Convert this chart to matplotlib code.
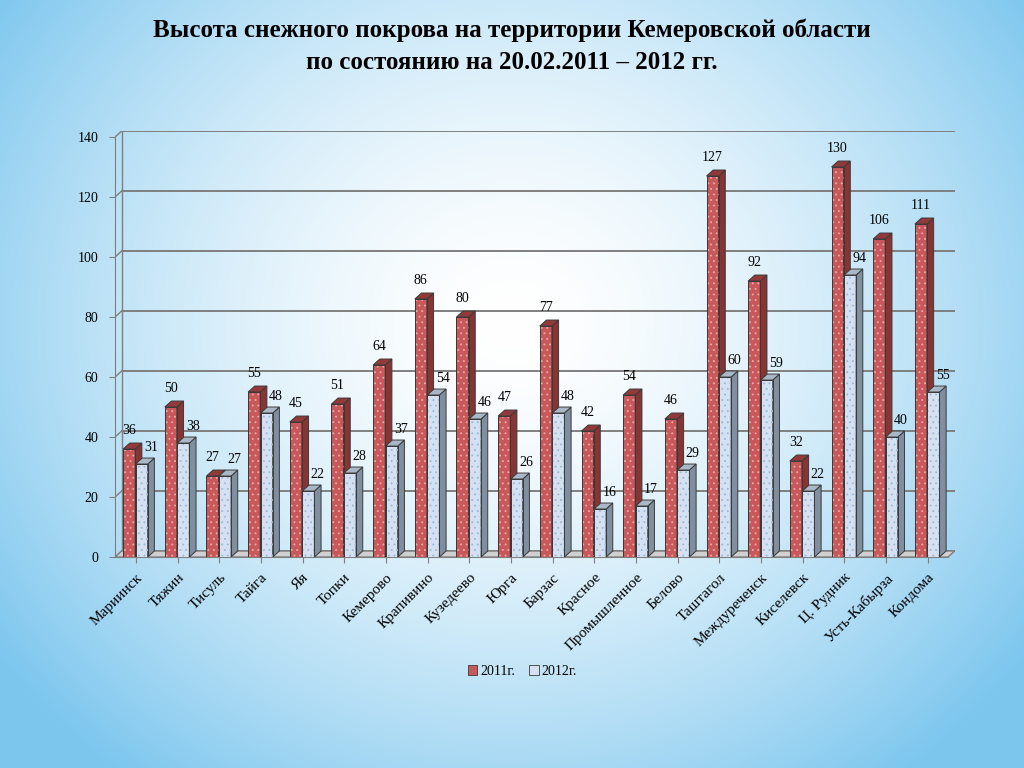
import numpy as np
import matplotlib.pyplot as plt
from matplotlib.patches import Polygon, Patch
from matplotlib.colors import to_rgb

categories = ["Мариинск", "Тяжин", "Тисуль", "Тайга", "Яя", "Топки", "Кемерово",
              "Крапивино", "Кузедеево", "Юрга", "Барзас", "Красное", "Промышленное",
              "Белово", "Таштагол", "Междуреченск", "Киселевск", "Ц. Рудник",
              "Усть-Кабырза", "Кондома"]
values_2011 = [36, 50, 27, 55, 45, 51, 64, 86, 80, 47, 77, 42, 54, 46, 127, 92, 32, 130, 106, 111]
values_2012 = [31, 38, 27, 48, 22, 28, 37, 54, 46, 26, 48, 16, 17, 29, 60, 59, 22, 94, 40, 55]
yticks = [0, 20, 40, 60, 80, 100, 120, 140]
series_labels = ["2011г.", "2012г."]

FONT = "Liberation Serif"
plt.rcParams['font.family'] = [FONT, 'DejaVu Serif']
plt.rcParams['hatch.linewidth'] = 0.6

fig = plt.figure(figsize=(10.24, 7.68), dpi=100)

# background radial gradient
bg = fig.add_axes([0, 0, 1, 1], zorder=-10)
gx, gy = np.meshgrid(np.linspace(0, 1, 400), np.linspace(0, 1, 300))
r = np.sqrt(((gx - 0.5) / 0.62) ** 2 + ((gy - 0.42) / 0.75) ** 2)
t = np.clip(r, 0, 1) ** 1.6
c_out = np.array(to_rgb("#7cc6ee"))
c_in = np.array([1.0, 1.0, 1.0])
img = c_in[None, None, :] * (1 - t[..., None]) + c_out[None, None, :] * t[..., None]
bg.imshow(img, extent=[0, 1, 0, 1], aspect='auto', origin='upper')
bg.axis('off')

ax = fig.add_axes([0.1123, 0.2747, 0.820, 0.5547])
ax.patch.set_alpha(0)
n = len(categories)
xmin, xmax = -0.5, n - 0.5 + 0.15
ymax = 142
ax.set_xlim(xmin, xmax)
ax.set_ylim(0, ymax)
dx, dy = 0.16, 2.0

grid_c = "#7f7f7f"
for v in yticks:
    ax.plot([xmin + dx, xmax], [v + dy, v + dy], color=grid_c, lw=1.4, zorder=1)
    ax.plot([xmin, xmin + dx], [v, v + dy], color=grid_c, lw=1.0, zorder=1)
ax.plot([xmin + dx, xmin + dx], [dy, 140 + dy], color=grid_c, lw=1.0, zorder=1)
floor = Polygon([(xmin, 0), (xmax - dx, 0), (xmax, dy), (xmin + dx, dy)],
                closed=True, facecolor="#d0d0d0", edgecolor=grid_c, lw=1.0, zorder=1)
ax.add_patch(floor)

w = 0.29
EC = "#3a3a3a"
red_face, red_side, red_top, red_dot = "#c9585a", "#863434", "#93393a", "#eeaaa8"
blue_face, blue_side, blue_top, blue_dot = "#d3e1f2", "#7f8fa0", "#a9b8c8", "#9fb6d4"

def draw_bars(offset, vals, face, side, top, dot, label):
    xs = np.arange(n) + offset
    bars = ax.bar(xs, vals, width=w, color=face, edgecolor=EC, lw=0.7, zorder=3, label=label)
    ax.bar(xs, vals, width=w, fill=False, hatch='...', edgecolor=dot, lw=0, zorder=3.1)
    ax.bar(xs, vals, width=w, fill=False, edgecolor=EC, lw=0.7, zorder=3.2)
    for b in bars:
        x0 = b.get_x(); bw = b.get_width(); h = b.get_height()
        ax.add_patch(Polygon([(x0 + bw, 0), (x0 + bw + dx, dy), (x0 + bw + dx, h + dy), (x0 + bw, h)],
                             closed=True, facecolor=side, edgecolor=EC, lw=0.7, zorder=3))
        ax.add_patch(Polygon([(x0, h), (x0 + dx, h + dy), (x0 + bw + dx, h + dy), (x0 + bw, h)],
                             closed=True, facecolor=top, edgecolor=EC, lw=0.7, zorder=3))
    return bars

rb = draw_bars(-0.16, values_2011, red_face, red_side, red_top, red_dot, series_labels[0])
bb = draw_bars(0.14, values_2012, blue_face, blue_side, blue_top, blue_dot, series_labels[1])

for b, v in zip(rb, values_2011):
    ax.annotate(str(v), (b.get_x() + b.get_width() / 2, v + dy), xytext=(0, 4),
                textcoords='offset points', ha='center', va='bottom', fontsize=10,
                family=FONT, zorder=5)
for b, v in zip(bb, values_2012):
    ax.annotate(str(v), (b.get_x() + b.get_width() + dx / 2, v + dy), xytext=(0, 3),
                textcoords='offset points', ha='center', va='bottom', fontsize=10,
                family=FONT, zorder=5)

ax.set_yticks(yticks)
ax.set_yticklabels([str(v) for v in yticks], fontsize=10, family=FONT)
ax.tick_params(axis='y', length=4, pad=8, color=grid_c)
ax.set_xticks(np.arange(n))
ax.set_xticklabels(categories, rotation=45, ha='right', rotation_mode='anchor',
                   fontsize=11, family=FONT)
ax.tick_params(axis='x', length=4, pad=6, color=grid_c)
for s in ['top', 'right']:
    ax.spines[s].set_visible(False)
ax.spines['left'].set_color(grid_c)
ax.spines['bottom'].set_color(grid_c)
ax.spines['left'].set_bounds(0, 140)
ax.spines['bottom'].set_bounds(xmin, xmax - dx)

handles = [Patch(facecolor=red_face, edgecolor=EC, lw=0.6),
           Patch(facecolor=blue_face, edgecolor=EC, lw=0.6)]
fig.legend(handles, series_labels, loc='center', bbox_to_anchor=(0.51, 0.126), ncol=2,
           frameon=False, handlelength=0.7, handleheight=0.7,
           handletextpad=0.2, columnspacing=1.0, prop={'family': FONT, 'size': 10})

fig.text(0.5, 0.96, "Высота снежного покрова на территории Кемеровской области",
         ha='center', va='center', fontsize=18, fontweight='bold', family=FONT)
fig.text(0.5, 0.918, "по состоянию на 20.02.2011 – 2012 гг.",
         ha='center', va='center', fontsize=18, fontweight='bold', family=FONT)

fig.savefig("out.png", dpi=100)
